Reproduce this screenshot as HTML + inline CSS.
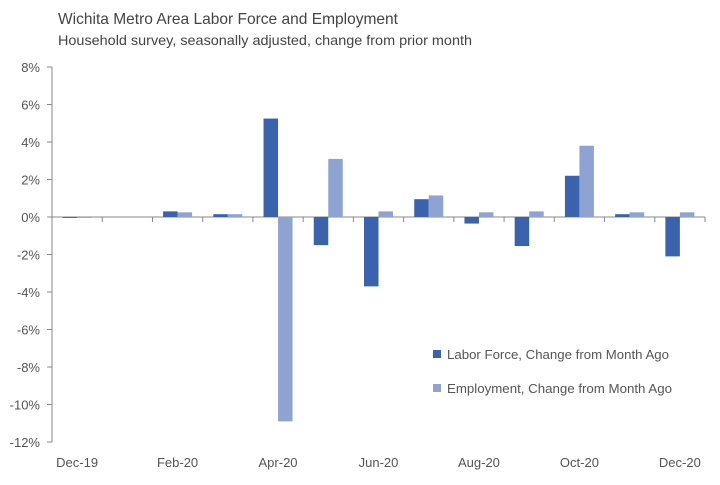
<!DOCTYPE html><html><head><style>body{margin:0;background:#fff}svg{font-family:"Liberation Sans",sans-serif}</style></head><body>
<svg width="720" height="480" xmlns="http://www.w3.org/2000/svg">
<text x="58" y="24" font-size="16" fill="#444" textLength="340" lengthAdjust="spacingAndGlyphs">Wichita Metro Area Labor Force and Employment</text>
<text x="58" y="45" font-size="14" fill="#444" textLength="414" lengthAdjust="spacingAndGlyphs">Household survey, seasonally adjusted, change from prior month</text>
<g font-size="13" fill="#555" text-anchor="end" id="yl"></g>
<line x1="52" y1="67" x2="52" y2="442" stroke="#888"/>
<line x1="52" y1="217" x2="705" y2="217" stroke="#888"/>
<g id="bars"></g>
<rect x="433" y="350" width="8" height="8" fill="#3a62ad"/>
<text x="447" y="359" font-size="13" fill="#555" textLength="222" lengthAdjust="spacingAndGlyphs">Labor Force, Change from Month Ago</text>
<rect x="433" y="384" width="8" height="8" fill="#8fa3d3"/>
<text x="447" y="393" font-size="13" fill="#555" textLength="225" lengthAdjust="spacingAndGlyphs">Employment, Change from Month Ago</text>
<g font-size="13" fill="#555" text-anchor="middle" id="xl"></g>
</svg>
<script>
var ns="http://www.w3.org/2000/svg",yl=document.getElementById('yl'),b=document.getElementById('bars'),xl=document.getElementById('xl');
function el(p,t,a,txt){var e=document.createElementNS(ns,t);for(var k in a)e.setAttribute(k,a[k]);if(txt)e.textContent=txt;p.appendChild(e);}
for(var v=8;v>=-12;v-=2){var y=217-v*18.75;el(yl,'text',{x:40,y:y+5},v+'%');el(b,'line',{x1:47,x2:52,y1:y,y2:y,stroke:'#888'});}
var cw=50.23;for(var i=0;i<=13;i++){var x=52+i*cw;el(b,'line',{x1:x,x2:x,y1:217,y2:222,stroke:'#888'});}
var A=[-0.05,0,0.3,0.15,5.25,-1.5,-3.7,0.95,-0.35,-1.55,2.2,0.15,-2.1],B=[-0.05,0,0.25,0.15,-10.9,3.1,0.3,1.15,0.25,0.3,3.8,0.25,0.25];
function bar(x,v,c){if(v===0)return;var y1=217,y2=217-v*18.75;el(b,'rect',{x:x,y:Math.min(y1,y2),width:14.5,height:Math.max(Math.abs(y2-y1),0.8),fill:c});}
for(var i=0;i<13;i++){var c=52+(i+0.5)*cw;bar(c-14.5,A[i],'#3a62ad');bar(c,B[i],'#8fa3d3');}
var L=['Dec-19','Feb-20','Apr-20','Jun-20','Aug-20','Oct-20','Dec-20'];for(var j=0;j<7;j++)el(xl,'text',{x:52+(2*j+0.5)*cw,y:467},L[j]);
</script></body></html>
